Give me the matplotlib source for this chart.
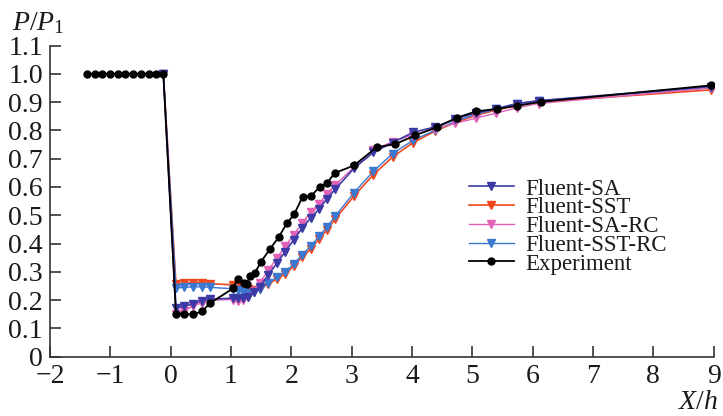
import matplotlib
matplotlib.use("Agg")
import matplotlib.pyplot as plt

plt.rcParams['font.family'] = ['Liberation Serif', 'DejaVu Serif']
plt.rcParams['mathtext.fontset'] = 'custom'
plt.rcParams['mathtext.rm'] = 'Liberation Serif'
plt.rcParams['mathtext.it'] = 'Liberation Serif:italic'

x_cfd = [-0.12, 0.09, 0.23, 0.37, 0.52, 0.66, 1.04, 1.12, 1.20, 1.29, 1.38, 1.48, 1.62, 1.76,
         1.90, 2.04, 2.18, 2.32, 2.46, 2.59, 2.73, 3.04, 3.36, 3.68, 4.02, 4.38, 4.72, 5.06,
         5.40, 5.74, 6.10, 8.95]

sa = [1.0, 0.173, 0.179, 0.186, 0.198, 0.203, 0.207, 0.208, 0.208, 0.212, 0.228, 0.248, 0.289,
      0.330, 0.371, 0.413, 0.454, 0.490, 0.521, 0.558, 0.592, 0.666, 0.722, 0.757, 0.793, 0.812,
      0.840, 0.862, 0.877, 0.895, 0.905, 0.955]

sst = [1.0, 0.256, 0.260, 0.262, 0.262, 0.258, 0.254, 0.252, 0.245, 0.238, 0.234, 0.238, 0.258,
       0.274, 0.293, 0.320, 0.352, 0.380, 0.416, 0.448, 0.487, 0.568, 0.643, 0.706, 0.757, 0.797,
       0.828, 0.853, 0.872, 0.888, 0.900, 0.943]

sa_rc = [1.0, 0.152, 0.162, 0.180, 0.190, 0.200, 0.202, 0.197, 0.200, 0.210, 0.232, 0.262, 0.305,
         0.348, 0.390, 0.430, 0.472, 0.510, 0.540, 0.575, 0.607, 0.670, 0.730, 0.760, 0.785, 0.805,
         0.825, 0.843, 0.861, 0.880, 0.895, 0.950]

sst_rc = [1.0, 0.243, 0.245, 0.247, 0.247, 0.245, 0.240, 0.235, 0.230, 0.226, 0.228, 0.240, 0.262,
          0.280, 0.300, 0.328, 0.360, 0.390, 0.425, 0.458, 0.497, 0.580, 0.655, 0.718, 0.765, 0.800,
          0.832, 0.857, 0.875, 0.893, 0.905, 0.950]

x_exp = [-1.38, -1.26, -1.13, -1.00, -0.87, -0.75, -0.62, -0.49, -0.36, -0.24, -0.12,
         0.09, 0.23, 0.38, 0.52, 0.66, 1.04, 1.11, 1.21, 1.26, 1.32, 1.40, 1.50, 1.65, 1.79,
         1.93, 2.05, 2.19, 2.33, 2.47, 2.59, 2.72, 3.04, 3.42, 3.72, 4.05, 4.41, 4.75, 5.06,
         5.41, 5.74, 6.14, 8.95]
y_exp = [1.0, 1.0, 1.0, 1.0, 1.0, 1.0, 1.0, 1.0, 1.0, 1.0, 1.0,
         0.150, 0.150, 0.150, 0.160, 0.190, 0.242, 0.275, 0.260, 0.257, 0.285, 0.297, 0.336,
         0.381, 0.422, 0.472, 0.504, 0.566, 0.568, 0.600, 0.613, 0.649, 0.676, 0.741, 0.751,
         0.782, 0.811, 0.845, 0.867, 0.876, 0.887, 0.901, 0.959]

x_ticks = [-2, -1, 0, 1, 2, 3, 4, 5, 6, 7, 8, 9]
y_ticks = [0, 0.1, 0.2, 0.3, 0.4, 0.5, 0.6, 0.7, 0.8, 0.9, 1.0, 1.1]
y_ticklabels = ['0', '0.1', '0.2', '0.3', '0.4', '0.5', '0.6', '0.7', '0.8', '0.9', '1.0', '1.1']

c_sa = '#3c3aa6'
c_sst = '#f0481c'
c_sarc = '#e362b8'
c_sstrc = '#3b78d2'
axc = '#333333'

fig = plt.figure(figsize=(7.23, 4.16), dpi=100)
ax = fig.add_axes([0.069, 0.1426, 0.918, 0.748])

ms = 5.5
l_sst, = ax.plot(x_cfd, sst, color=c_sst, lw=1.2, marker='v', ms=ms, label='Fluent-SST')
l_sstrc, = ax.plot(x_cfd, sst_rc, color=c_sstrc, lw=1.0, marker='v', ms=ms, label='Fluent-SST-RC')
l_sarc, = ax.plot(x_cfd, sa_rc, color=c_sarc, lw=1.0, marker='v', ms=ms, label='Fluent-SA-RC')
l_sa, = ax.plot(x_cfd, sa, color=c_sa, lw=1.2, marker='v', ms=ms, label='Fluent-SA')
l_exp, = ax.plot(x_exp, y_exp, color='black', lw=1.3, marker='o', ms=5, label='Experiment')

ax.set_xlim(-2, 9)
ax.set_ylim(0, 1.1)
ax.set_xticks(x_ticks)
ax.set_xticklabels([str(t).replace('-', '\u2212') for t in x_ticks])
ax.set_yticks(y_ticks)
ax.set_yticklabels(y_ticklabels)
for s in ['top', 'right']:
    ax.spines[s].set_visible(False)
for s in ['left', 'bottom']:
    ax.spines[s].set_color(axc)
    ax.spines[s].set_linewidth(1.2)
ax.tick_params(direction='in', length=8, width=1.2, color=axc, labelsize=20,
               labelcolor='#1a1a1a')
ax.tick_params(axis='y', pad=5)
ax.tick_params(axis='x', pad=5)

fig.text(0.017, 0.928, r'$P/P_1$', fontsize=20, color='#1a1a1a')
fig.text(0.994, 0.018, r'$X/h$', fontsize=20, color='#1a1a1a', ha='right')

leg = ax.legend(handles=[l_sa, l_sst, l_sarc, l_sstrc, l_exp], loc='upper left',
                bbox_to_anchor=(0.648, 0.571), bbox_transform=fig.transFigure,
                frameon=False, fontsize=16.5, handlelength=2.0, handletextpad=0.5,
                labelspacing=-0.1, borderpad=0, borderaxespad=0)
for t in leg.get_texts():
    t.set_color('#1a1a1a')

fig.savefig('out.png', dpi=100)
